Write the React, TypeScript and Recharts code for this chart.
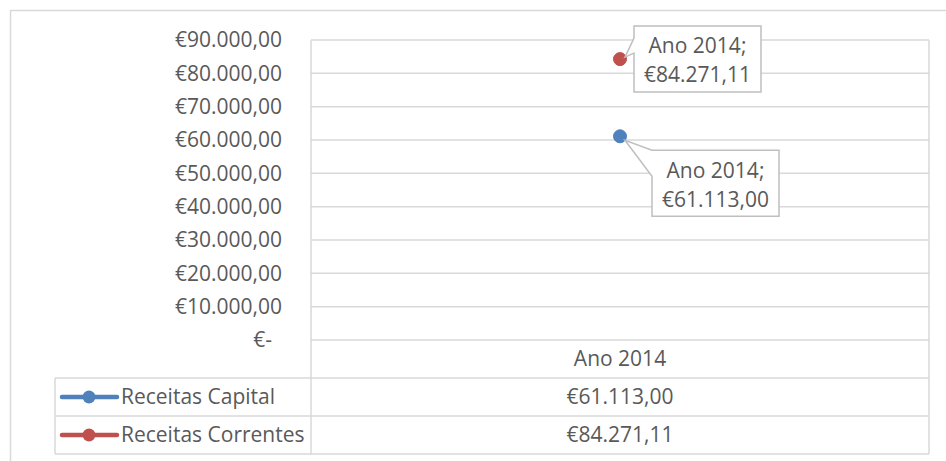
import { LineChart, Line, XAxis, YAxis, CartesianGrid, LabelList, Customized } from "recharts";

const categories = ["Ano 2014"];
const seriesNames = ["Receitas Capital", "Receitas Correntes"];
const seriesColors = ["#4f81bd", "#c0504d"];
const receitasCapital = [61113.0];
const receitasCorrentes = [84271.11];
const yTicks = [0, 10000, 20000, 30000, 40000, 50000, 60000, 70000, 80000, 90000];

const data = categories.map((category, i) => ({
  category,
  capital: receitasCapital[i],
  correntes: receitasCorrentes[i],
}));
const seriesValues = [receitasCapital, receitasCorrentes];

const W = 946;
const H = 461;
const PLOT_LEFT = 311;
const PLOT_RIGHT = 929;
const PLOT_TOP = 40;
const PLOT_BOTTOM = 340;
const ROW_H = 38;
const TABLE_LEFT = 55;
const FONT = "'Open Sans', sans-serif";
const FS = 21;
const TEXT = "#595959";
const GRID = "#d9d9d9";

const euro = (v: number) => {
  const [int, dec] = v.toFixed(2).split(".");
  return "€" + int.replace(/\B(?=(\d{3})+(?!\d))/g, ".") + "," + dec;
};

const YTick = ({ y, payload }: any) => (
  <text
    x={payload.value === 0 ? PLOT_LEFT - 39 : PLOT_LEFT - 29}
    y={y}
    dy="0.35em"
    textAnchor="end"
    fill={TEXT}
    fontFamily={FONT}
    fontSize={FS}
  >
    {payload.value === 0 ? "€-" : euro(payload.value)}
  </text>
);

// category column of the data table: name + one value per series
const TableTick = ({ x, payload, index }: any) => (
  <g fontFamily={FONT} fontSize={FS} fill={TEXT} textAnchor="middle">
    <text x={x} y={PLOT_BOTTOM + ROW_H / 2} dy="0.35em">
      {payload.value}
    </text>
    {seriesValues.map((vals, s) => (
      <text key={s} x={x} y={PLOT_BOTTOM + ROW_H * (s + 1) + ROW_H / 2} dy="0.35em">
        {euro(vals[index ?? 0])}
      </text>
    ))}
  </g>
);

const TableFrame = () => {
  const bottom = PLOT_BOTTOM + ROW_H * 3;
  return (
    <g>
      <rect x={10.5} y={10.5} width={960} height={500} fill="none" stroke={GRID} strokeWidth={1.5} />
      <line x1={PLOT_LEFT} y1={PLOT_TOP} x2={PLOT_LEFT} y2={bottom} stroke={GRID} strokeWidth={1.5} />
      <line x1={PLOT_RIGHT} y1={PLOT_TOP} x2={PLOT_RIGHT} y2={bottom} stroke={GRID} strokeWidth={1.5} />
      <line x1={TABLE_LEFT} y1={PLOT_BOTTOM + ROW_H} x2={TABLE_LEFT} y2={bottom} stroke={GRID} strokeWidth={1.5} />
      {[1, 2, 3].map((r) => (
        <line
          key={r}
          x1={TABLE_LEFT}
          y1={PLOT_BOTTOM + ROW_H * r}
          x2={PLOT_RIGHT}
          y2={PLOT_BOTTOM + ROW_H * r}
          stroke={GRID}
          strokeWidth={1.5}
        />
      ))}
      {seriesNames.map((name, s) => {
        const cy = PLOT_BOTTOM + ROW_H * (s + 1) + ROW_H / 2;
        return (
          <g key={name}>
            <line x1={62} y1={cy} x2={117} y2={cy} stroke={seriesColors[s]} strokeWidth={4.5} strokeLinecap="round" />
            <circle cx={89} cy={cy} r={6.5} fill={seriesColors[s]} />
            <text x={121} y={cy} dy="0.35em" fill={TEXT} fontFamily={FONT} fontSize={FS}>
              {name}
            </text>
          </g>
        );
      })}
    </g>
  );
};

const makeCallout = (placement: "above" | "below") => (props: any) => {
  const { x, y, value, index } = props;
  const w = 127;
  const h = 66;
  let L: number, T: number, d: string;
  if (placement === "above") {
    L = x + 14;
    T = y - 33;
    d = `M${L},${T} H${L + w} V${T + h} H${L} V${T + 27} L${x + 5},${y - 2} L${L},${T + 12} Z`;
  } else {
    L = x + 32;
    T = y + 14;
    d = `M${L},${T} H${L + w} V${T + h} H${L} V${T + 26} L${x + 5},${y + 4} Z`;
  }
  return (
    <g>
      <path d={d} fill="#fff" stroke="#bfbfbf" strokeWidth={1.5} />
      <g fontFamily={FONT} fontSize={FS} fill={TEXT} textAnchor="middle">
        <text x={L + w / 2} y={T + 20} dy="0.35em">
          {categories[index]};
        </text>
        <text x={L + w / 2} y={T + 49} dy="0.35em">
          {euro(value)}
        </text>
      </g>
    </g>
  );
};

export default function App() {
  return (
    <div style={{ position: "absolute", left: 0, top: 0, background: "#fff" }}>
      <LineChart
        width={W}
        height={H}
        data={data}
        margin={{ top: PLOT_TOP, right: W - PLOT_RIGHT, bottom: 7, left: PLOT_LEFT - 300 }}
      >
        <Customized component={<TableFrame />} />
        <CartesianGrid vertical={false} stroke={GRID} strokeWidth={1.5} />
        <YAxis
          width={300}
          domain={[0, 90000]}
          ticks={yTicks}
          interval={0}
          axisLine={false}
          tickLine={false}
          tick={<YTick />}
        />
        <XAxis dataKey="category" height={114} axisLine={false} tickLine={false} tick={<TableTick />} />
        <Line
          dataKey="capital"
          name={seriesNames[0]}
          stroke={seriesColors[0]}
          strokeWidth={4.5}
          dot={{ r: 6.5, fill: seriesColors[0], stroke: seriesColors[0], strokeWidth: 1 }}
          isAnimationActive={false}
        >
          <LabelList dataKey="capital" content={makeCallout("below")} />
        </Line>
        <Line
          dataKey="correntes"
          name={seriesNames[1]}
          stroke={seriesColors[1]}
          strokeWidth={4.5}
          dot={{ r: 6.5, fill: seriesColors[1], stroke: seriesColors[1], strokeWidth: 1 }}
          isAnimationActive={false}
        >
          <LabelList dataKey="correntes" content={makeCallout("above")} />
        </Line>
      </LineChart>
    </div>
  );
}
